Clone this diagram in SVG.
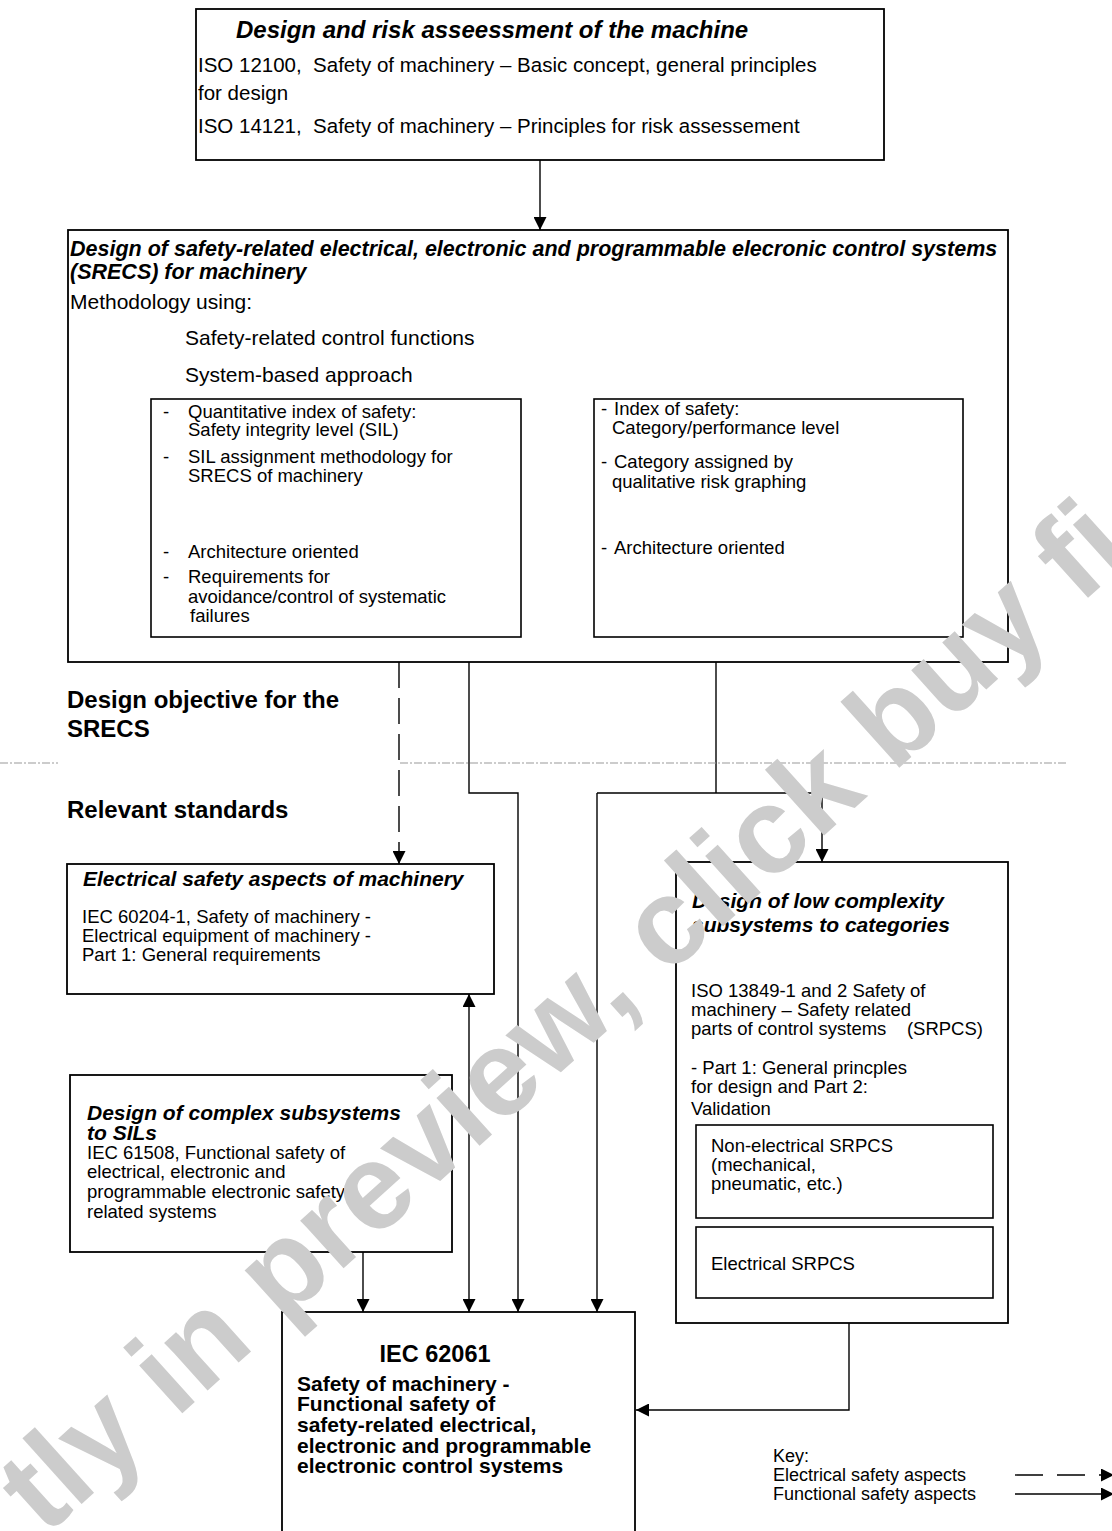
<svg xmlns="http://www.w3.org/2000/svg" width="1112" height="1531" viewBox="0 0 1112 1531">
<style>
text{font-family:"Liberation Sans",Arial,sans-serif;fill:#000}
.bi{font-weight:bold;font-style:italic}
.b{font-weight:bold}
.box{fill:#fff;stroke:#000;stroke-width:1.8}
.in{fill:none;stroke:#000;stroke-width:1.6}
.c{fill:none;stroke:#000;stroke-width:1.4}
.d{stroke-dasharray:26 10}
.s185{font-size:18.5px}
.wm{font-family:"Liberation Sans",Arial,sans-serif;font-weight:bold;font-size:122px;fill:#cccccc}
</style>
<defs>
<marker id="ah" viewBox="0 0 13 13" refX="13" refY="6.5" markerWidth="13" markerHeight="13" markerUnits="userSpaceOnUse" orient="auto-start-reverse"><path d="M0,0 L13,6.5 L0,13 z" fill="#000"/></marker>
</defs>

<g id="connectors">
<path class="c" d="M540,160 V230" marker-end="url(#ah)"/>
<path class="c d" d="M399,662 V864" marker-end="url(#ah)"/>
<path class="c" d="M469,662 V793 H518 V1312" marker-end="url(#ah)"/>
<path class="c" d="M716,662 V793"/>
<path class="c" d="M597,793 H822 V862" marker-end="url(#ah)"/>
<path class="c" d="M597,793 V1312" marker-end="url(#ah)"/>
<path class="c" d="M469,994 V1312" marker-start="url(#ah)" marker-end="url(#ah)"/>
<path class="c" d="M363,1252 V1312" marker-end="url(#ah)"/>
<path class="c" d="M849,1298 V1410 H636" marker-end="url(#ah)"/>
</g>

<g id="divider">
<line x1="0" y1="763" x2="58" y2="763" stroke="#999" stroke-width="1" stroke-dasharray="8 2 2 2"/>
<line x1="400" y1="763" x2="1068" y2="763" stroke="#999" stroke-width="1" stroke-dasharray="8 2 2 2"/>
</g>

<g id="node-design-risk">
<rect class="box" x="196" y="9" width="688" height="151"/>
<text class="bi" x="236" y="38" font-size="24">Design and risk asseessment of the machine</text>
<text x="198" y="72" font-size="20.5" xml:space="preserve">ISO 12100,  Safety of machinery – Basic concept, general principles</text>
<text x="198" y="100" font-size="20.5">for design</text>
<text x="198" y="133" font-size="20.5" xml:space="preserve">ISO 14121,  Safety of machinery – Principles for risk assessement</text>
</g>

<g id="node-srecs">
<rect class="box" x="68" y="230" width="940" height="432"/>
<text class="bi" x="70" y="256" font-size="21.5">Design of safety-related electrical, electronic and programmable elecronic control systems</text>
<text class="bi" x="70" y="279" font-size="21.5">(SRECS) for machinery</text>
<text x="70" y="309" font-size="21">Methodology using:</text>
<text x="185" y="345" font-size="21">Safety-related control functions</text>
<text x="185" y="382" font-size="21">System-based approach</text>
</g>

<g id="node-sil">
<rect class="in" x="151" y="399" width="370" height="238"/>
<g class="s185">
<text x="163" y="418">-</text><text x="188" y="418">Quantitative index of safety:</text>
<text x="188" y="436">Safety integrity level (SIL)</text>
<text x="163" y="463">-</text><text x="188" y="463">SIL assignment methodology for</text>
<text x="188" y="482">SRECS of machinery</text>
<text x="163" y="558">-</text><text x="188" y="558">Architecture oriented</text>
<text x="163" y="583">-</text><text x="188" y="583">Requirements for</text>
<text x="188" y="603">avoidance/control of systematic</text>
<text x="190" y="622">failures</text>
</g>
</g>

<g id="node-category">
<rect class="in" x="594" y="399" width="369" height="238"/>
<g class="s185">
<text x="601" y="415">-</text><text x="614" y="415">Index of safety:</text>
<text x="612" y="434">Category/performance level</text>
<text x="601" y="468">-</text><text x="614" y="468">Category assigned by</text>
<text x="612" y="488">qualitative risk graphing</text>
<text x="601" y="554">-</text><text x="614" y="554">Architecture oriented</text>
</g>
</g>

<g id="labels">
<text class="b" x="67" y="708" font-size="24">Design objective for the</text>
<text class="b" x="67" y="737" font-size="24">SRECS</text>
<text class="b" x="67" y="818" font-size="24">Relevant standards</text>
</g>

<g id="node-electrical">
<rect class="box" x="67" y="864" width="427" height="130"/>
<text class="bi" x="83" y="886" font-size="21">Electrical safety aspects of machinery</text>
<g class="s185">
<text x="82" y="923">IEC 60204-1, Safety of machinery -</text>
<text x="82" y="942">Electrical equipment of machinery -</text>
<text x="82" y="961">Part 1: General requirements</text>
</g>
</g>

<g id="node-low-complexity">
<rect class="box" x="676" y="862" width="332" height="461"/>
<text class="bi" x="692" y="908" font-size="21">Design of low complexity</text>
<text class="bi" x="692" y="932" font-size="21">subsystems to categories</text>
<g class="s185">
<text x="691" y="997">ISO 13849-1 and 2 Safety of</text>
<text x="691" y="1016">machinery – Safety related</text>
<text x="691" y="1035" xml:space="preserve">parts of control systems    (SRPCS)</text>
<text x="691" y="1074">- Part 1: General princples</text>
<text x="691" y="1093">for design and Part 2:</text>
<text x="691" y="1115">Validation</text>
</g>
</g>

<g id="node-non-electrical">
<rect class="in" x="696" y="1125" width="297" height="93"/>
<g class="s185">
<text x="711" y="1152">Non-electrical SRPCS</text>
<text x="711" y="1171">(mechanical,</text>
<text x="711" y="1190">pneumatic, etc.)</text>
</g>
</g>

<g id="node-electrical-srpcs">
<rect class="in" x="696" y="1227" width="297" height="71"/>
<text class="s185" x="711" y="1270">Electrical SRPCS</text>
</g>

<g id="node-complex">
<rect class="box" x="70" y="1075" width="382" height="177"/>
<text class="bi" x="87" y="1120" font-size="21">Design of complex subsystems</text>
<text class="bi" x="87" y="1140" font-size="21">to SILs</text>
<g class="s185">
<text x="87" y="1159">IEC 61508, Functional safety of</text>
<text x="87" y="1178">electrical, electronic and</text>
<text x="87" y="1198">programmable electronic safety -</text>
<text x="87" y="1218">related systems</text>
</g>
</g>

<g id="node-iec62061">
<rect class="box" x="282" y="1312" width="353" height="230"/>
<text class="b" x="435" y="1362" font-size="23.5" text-anchor="middle">IEC 62061</text>
<g class="b" font-size="21">
<text x="297" y="1391">Safety of machinery -</text>
<text x="297" y="1411">Functional safety of</text>
<text x="297" y="1432">safety-related electrical,</text>
<text x="297" y="1453">electronic and programmable</text>
<text x="297" y="1473">electronic control systems</text>
</g>
</g>

<g id="key">
<text x="773" y="1462" font-size="18">Key:</text>
<text x="773" y="1481" font-size="18">Electrical safety aspects</text>
<text x="773" y="1500" font-size="18">Functional safety aspects</text>
<path class="c" d="M1015,1475 H1114" stroke-dasharray="28 14" marker-end="url(#ah)"/>
<path class="c" d="M1015,1494 H1114" marker-end="url(#ah)"/>
</g>

<g id="watermark">
<text class="wm" transform="translate(45,1537) rotate(-42)" x="0" y="0">tly in preview, click buy fi</text>
</g>
</svg>
